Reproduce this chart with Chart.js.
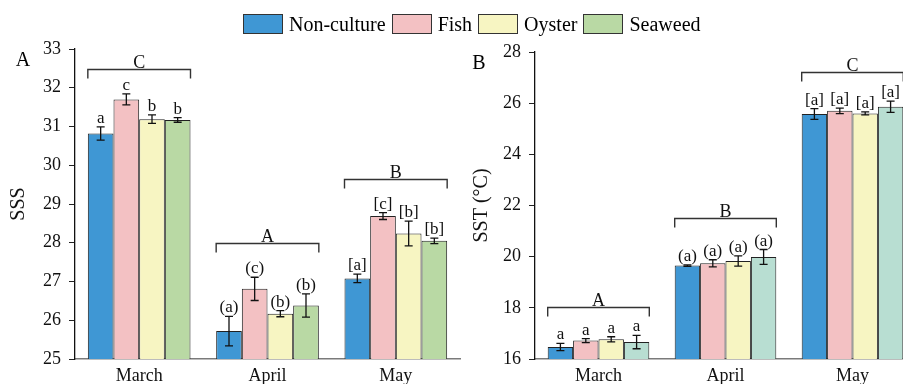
<!DOCTYPE html>
<html>
<head>
<meta charset="utf-8">
<script src="https://cdn.jsdelivr.net/npm/chart.js@4/dist/chart.umd.min.js"></script>
<style>
  html, body { margin: 0; padding: 0; background: #fff; }
  #wrap { position: relative; width: 903px; height: 384px; overflow: hidden; background: #fff; }
  #cA { position: absolute; left: 0; top: 0; }
  #cB { position: absolute; left: 440px; top: 0; }
  #legend { position: absolute; left: 243px; top: 14px; display: flex; align-items: center;
            font-family: "Liberation Serif", "Times New Roman", serif; font-size: 20px; color: #000; line-height: 20px; }
  #legend .box { width: 40px; height: 20px; box-sizing: border-box; border: 1px solid #333; margin-right: 6px; }
  #legend .lab { margin-right: 6px; white-space: nowrap; }
</style>
</head>
<body>
<div id="wrap">
  <canvas id="cA" width="462" height="384" style="width:462px;height:384px"></canvas>
  <canvas id="cB" width="480" height="384" style="width:480px;height:384px"></canvas>
  <div id="legend"></div>
</div>
<script>
// ---- data ----
const months = ['March', 'April', 'May'];
const seriesNames = ['Non-culture', 'Fish', 'Oyster', 'Seaweed'];
const colorsA = ['#3f97d4', '#f3c1c3', '#f7f5c2', '#b9d9a4'];
const colorsB = ['#3f97d4', '#f3c1c3', '#f7f5c2', '#b8ded2'];

// Sea surface salinity (mean, error)
const sssNonCulture = [30.82, 25.72, 27.08];
const sssFish       = [31.70, 26.81, 28.69];
const sssOyster     = [31.19, 26.17, 28.24];
const sssSeaweed    = [31.17, 26.38, 28.05];
const sssErrNonCulture = [0.17, 0.38, 0.11];
const sssErrFish       = [0.14, 0.30, 0.09];
const sssErrOyster     = [0.11, 0.08, 0.32];
const sssErrSeaweed    = [0.06, 0.30, 0.07];
const sssLetNonCulture = ['a', '(a)', '[a]'];
const sssLetFish       = ['c', '(c)', '[c]'];
const sssLetOyster     = ['b', '(b)', '[b]'];
const sssLetSeaweed    = ['b', '(b)', '[b]'];
const sssGroupLetters  = ['C', 'A', 'B'];

// Sea surface temperature (mean, error)
const sstNonCulture = [16.47, 19.65, 25.58];
const sstFish       = [16.72, 19.74, 25.70];
const sstOyster     = [16.77, 19.83, 25.60];
const sstSeaweed    = [16.66, 19.99, 25.86];
const sstErrNonCulture = [0.14, 0.03, 0.21];
const sstErrFish       = [0.08, 0.14, 0.11];
const sstErrOyster     = [0.10, 0.20, 0.06];
const sstErrSeaweed    = [0.26, 0.29, 0.22];
const sstLetters       = ['a', '(a)', '[a]'];
const sstGroupLetters  = ['A', 'B', 'C'];

// ---- drawing ----
const SERIF = '"Liberation Serif", "Times New Roman", serif';

// legend
const legendEl = document.getElementById('legend');
seriesNames.forEach((n, i) => {
  const b = document.createElement('div'); b.className = 'box'; b.style.background = colorsA[i];
  const t = document.createElement('span'); t.className = 'lab'; t.textContent = n;
  legendEl.appendChild(b); legendEl.appendChild(t);
});

// error bars, significance letters and month brackets
const annotate = {
  id: 'annotate',
  afterDatasetsDraw(chart, args, o) {
    const ctx = chart.ctx, ys = chart.scales.y;
    ctx.save();
    ctx.fillStyle = '#111';
    ctx.strokeStyle = '#111';
    ctx.textAlign = 'center';
    ctx.textBaseline = 'alphabetic';
    ctx.font = '17px ' + SERIF;
    chart.data.datasets.forEach((ds, di) => {
      const meta = chart.getDatasetMeta(di);
      meta.data.forEach((bar, i) => {
        const v = ds.data[i], e = o.errors[di][i];
        const yHi = ys.getPixelForValue(v + e), yLo = ys.getPixelForValue(v - e);
        ctx.lineWidth = 1.3;
        ctx.beginPath();
        ctx.moveTo(bar.x, yHi); ctx.lineTo(bar.x, yLo);
        ctx.moveTo(bar.x - 4, yHi); ctx.lineTo(bar.x + 4, yHi);
        ctx.moveTo(bar.x - 4, yLo); ctx.lineTo(bar.x + 4, yLo);
        ctx.stroke();
        ctx.fillText(o.letters[di][i], bar.x, yHi - 4);
      });
    });
    // brackets over each month group
    ctx.font = '18px ' + SERIF;
    ctx.strokeStyle = '#333';
    ctx.lineWidth = 1.4;
    chart.data.labels.forEach((lab, i) => {
      let l = Infinity, r = -Infinity;
      chart.data.datasets.forEach((ds, di) => {
        const b = chart.getDatasetMeta(di).data[i];
        l = Math.min(l, b.x - b.width / 2);
        r = Math.max(r, b.x + b.width / 2);
      });
      const y = Math.round(ys.getPixelForValue(o.bracketLevels[i])) + 0.5;
      ctx.beginPath();
      ctx.moveTo(l, y + 9); ctx.lineTo(l, y); ctx.lineTo(r, y); ctx.lineTo(r, y + 9);
      ctx.stroke();
      ctx.fillText(o.groupLetters[i], (l + r) / 2, y - 2);
    });
    // panel letter
    ctx.font = '20px ' + SERIF;
    ctx.fillStyle = '#000';
    ctx.fillText(o.panel, chart.chartArea.left + o.panelDx, chart.chartArea.top + 17);
    ctx.restore();
  }
};

function buildChart(id, values, colors, yMin, yMax, step, yTitle, yWidth, titlePad, padTop, padRight, annot) {
  return new Chart(document.getElementById(id), {
    type: 'bar',
    data: {
      labels: months,
      datasets: values.map((vals, i) => ({
        label: seriesNames[i],
        data: vals,
        backgroundColor: colors[i],
        borderColor: '#222',
        borderWidth: 1,
        borderSkipped: 'bottom',
        barPercentage: 1.0,
        categoryPercentage: 0.8
      }))
    },
    options: {
      responsive: false,
      animation: false,
      devicePixelRatio: 1,
      layout: { padding: { top: padTop, right: padRight, left: 0, bottom: 0 } },
      plugins: { legend: { display: false }, tooltip: { enabled: false }, annotate: annot },
      scales: {
        x: {
          grid: { display: false, drawTicks: false },
          border: { display: true, color: '#7a7a7a', width: 1.5 },
          ticks: { color: '#111', font: { family: SERIF, size: 18 }, padding: 6 },
          afterFit(s) { s.height = 25; s.paddingLeft = 0; s.paddingRight = 0; }
        },
        y: {
          min: yMin, max: yMax,
          ticks: { stepSize: step, color: '#111', font: { family: SERIF, size: 18 }, padding: 8 },
          grid: { drawOnChartArea: false, drawTicks: true, tickLength: 6, color: '#222', lineWidth: 1 },
          border: { display: true, color: '#111', width: 1.3 },
          title: { display: true, text: yTitle, color: '#111', font: { family: SERIF, size: 20 }, padding: { top: titlePad, bottom: 0 } },
          afterFit(s) { s.width = yWidth; s.paddingTop = 0; s.paddingBottom = 0; }
        }
      }
    },
    plugins: [annotate]
  });
}

buildChart('cA', [sssNonCulture, sssFish, sssOyster, sssSeaweed], colorsA, 25, 33, 1, 'SSS', 75, 7, 49, 2, {
  errors: [sssErrNonCulture, sssErrFish, sssErrOyster, sssErrSeaweed],
  letters: [sssLetNonCulture, sssLetFish, sssLetOyster, sssLetSeaweed],
  groupLetters: sssGroupLetters,
  bracketLevels: [32.48, 27.99, 29.65],
  panel: 'A', panelDx: -52
});

buildChart('cB', [sstNonCulture, sstFish, sstOyster, sstSeaweed], colorsB, 16, 28, 2, 'SST (°C)', 95, 30, 52, 4, {
  errors: [sstErrNonCulture, sstErrFish, sstErrOyster, sstErrSeaweed],
  letters: [sstLetters, sstLetters, sstLetters, sstLetters],
  groupLetters: sstGroupLetters,
  bracketLevels: [18.03, 21.51, 27.22],
  panel: 'B', panelDx: -56
});
</script>
</body>
</html>
